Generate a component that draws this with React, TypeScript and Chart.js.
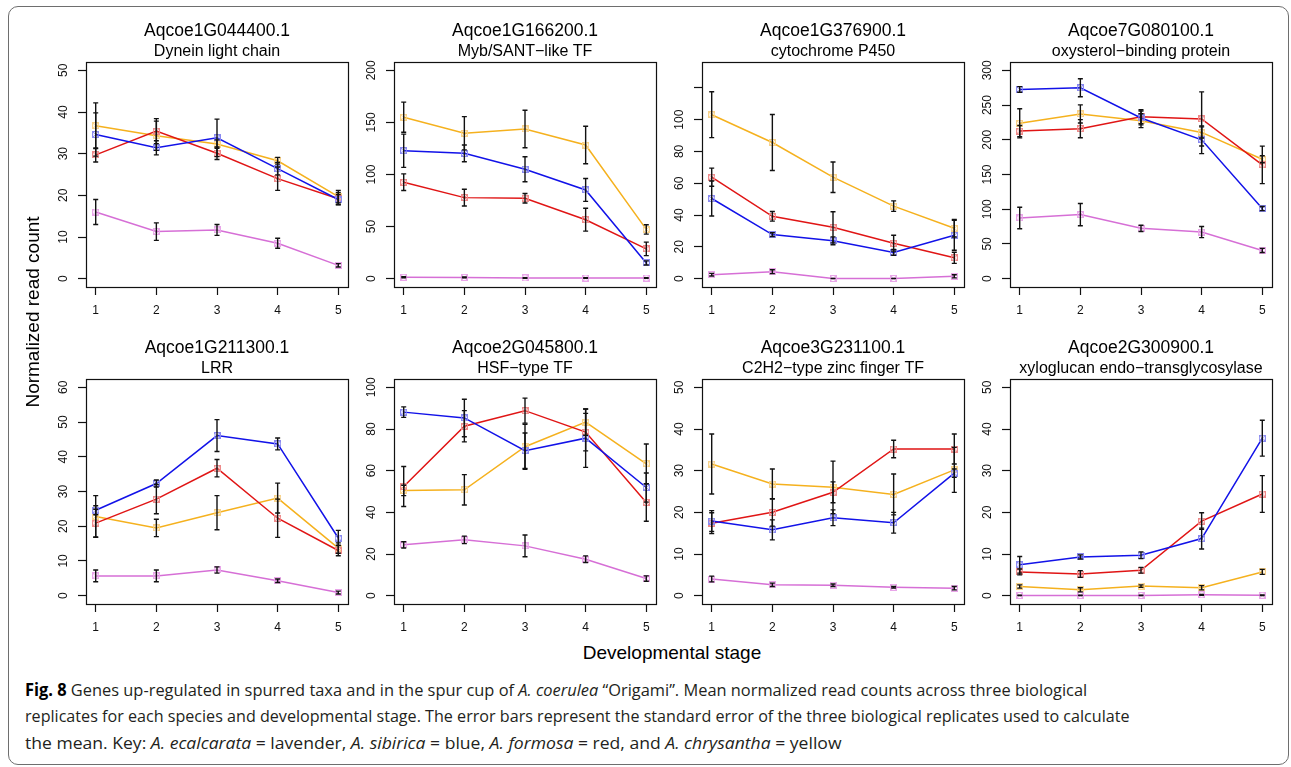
import React, { useEffect, useLayoutEffect, useRef } from "react";
import { Chart, registerables } from "chart.js";

Chart.register(...registerables);

// ---------------- data ----------------
const stages = [1, 2, 3, 4, 5];

const geneIds = [
  "Aqcoe1G044400.1",
  "Aqcoe1G166200.1",
  "Aqcoe1G376900.1",
  "Aqcoe7G080100.1",
  "Aqcoe1G211300.1",
  "Aqcoe2G045800.1",
  "Aqcoe3G231100.1",
  "Aqcoe2G300900.1",
];

const geneNames = [
  "Dynein light chain",
  "Myb/SANT\u2212like TF",
  "cytochrome P450",
  "oxysterol\u2212binding protein",
  "LRR",
  "HSF\u2212type TF",
  "C2H2\u2212type zinc finger TF",
  "xyloglucan endo\u2212transglycosylase",
];

const yLimits = [50, 200, 131, 300, 60, 100, 50, 50];

const yTickValues = [
  [0, 10, 20, 30, 40, 50],
  [0, 50, 100, 150, 200],
  [0, 20, 40, 60, 80, 100, 120],
  [0, 50, 100, 150, 200, 250, 300],
  [0, 10, 20, 30, 40, 50, 60],
  [0, 20, 40, 60, 80, 100],
  [0, 10, 20, 30, 40, 50],
  [0, 10, 20, 30, 40, 50],
];

const yTickLabels = [
  ["0", "10", "20", "30", "40", "50"],
  ["0", "50", "100", "150", "200"],
  ["0", "20", "40", "60", "80", "100", ""],
  ["0", "50", "100", "150", "200", "250", "300"],
  ["0", "10", "20", "30", "40", "50", "60"],
  ["0", "20", "40", "60", "80", "100"],
  ["0", "10", "20", "30", "40", "50"],
  ["0", "10", "20", "30", "40", "50"],
];

// A. ecalcarata (lavender)
const ecalcarataMean = [
  [16.0, 11.3, 11.7, 8.5, 3.2],
  [1.3, 1.2, 0.7, 0.6, 0.6],
  [2.5, 4.4, 0.1, 0.1, 1.5],
  [87.4, 92.3, 72.5, 67.1, 40.6],
  [5.7, 5.7, 7.4, 4.3, 0.9],
  [24.4, 26.8, 23.9, 17.5, 8.2],
  [4.0, 2.6, 2.5, 2.0, 1.8],
  [0.05, 0.05, 0.05, 0.2, 0.1],
];
const ecalcarataSE = [
  [3.0, 2.1, 1.3, 1.2, 0.4],
  [0.5, 0.4, 0.3, 0.3, 0.3],
  [0.8, 1.2, 0.1, 0.1, 1.0],
  [15.5, 16.0, 4.5, 8.0, 3.0],
  [1.7, 1.7, 0.9, 0.5, 0.4],
  [1.5, 1.8, 5.2, 1.6, 1.3],
  [0.7, 0.4, 0.3, 0.2, 0.4],
  [0.05, 0.05, 0.05, 0.1, 0.05],
];

// A. sibirica (blue)
const sibiricaMean = [
  [34.6, 31.4, 33.8, 26.4, 19.0],
  [122.8, 120.3, 105.1, 85.2, 15.1],
  [50.4, 27.7, 23.8, 16.5, 27.3],
  [272.5, 274.9, 231.4, 200.0, 101.0],
  [24.6, 32.3, 46.1, 43.7, 16.6],
  [88.1, 85.3, 69.6, 75.6, 51.9],
  [17.9, 15.8, 18.7, 17.5, 29.4],
  [7.4, 9.3, 9.7, 13.7, 37.8],
];
const sibiricaSE = [
  [5.2, 1.7, 4.5, 1.5, 1.2],
  [16.0, 8.0, 12.0, 11.0, 2.0],
  [11.0, 1.2, 2.5, 1.8, 9.4],
  [4.0, 13.0, 10.0, 20.0, 3.0],
  [1.3, 1.0, 4.6, 1.7, 2.2],
  [2.5, 9.0, 8.5, 14.0, 7.0],
  [2.5, 2.4, 1.9, 2.5, 1.0],
  [2.0, 0.5, 0.8, 2.5, 4.3],
];

// A. formosa (red)
const formosaMean = [
  [29.7, 35.4, 30.1, 24.0, 19.2],
  [92.6, 77.8, 77.2, 56.6, 28.6],
  [63.8, 39.2, 32.3, 22.3, 13.1],
  [212.6, 216.0, 233.3, 230.0, 163.8],
  [20.9, 27.8, 36.7, 22.3, 13.0],
  [52.4, 81.3, 88.8, 78.5, 44.7],
  [17.4, 20.0, 24.8, 35.2, 35.2],
  [5.7, 5.2, 6.1, 17.9, 24.4],
];
const formosaSE = [
  [1.7, 3.0, 1.5, 2.8, 1.5],
  [8.0, 8.0, 4.5, 11.0, 6.5],
  [5.7, 3.0, 9.8, 5.0, 3.5],
  [8.0, 13.0, 10.0, 39.0, 27.0],
  [4.0, 4.2, 2.5, 5.5, 1.5],
  [9.6, 7.5, 6.0, 9.0, 9.0],
  [2.5, 3.3, 2.5, 2.1, 3.6],
  [0.7, 0.8, 0.7, 2.0, 4.4],
];

// A. chrysantha (yellow)
const chrysanthaMean = [
  [36.7, 34.3, 32.3, 28.3, 19.7],
  [155.0, 139.6, 143.7, 128.3, 47.3],
  [103.1, 85.6, 63.8, 45.6, 31.7],
  [223.7, 237.2, 227.5, 210.6, 172.0],
  [22.8, 19.5, 23.9, 28.1, 13.7],
  [50.5, 50.8, 71.5, 83.3, 63.3],
  [31.6, 26.8, 26.0, 24.3, 30.2],
  [2.2, 1.4, 2.3, 1.9, 5.7],
];
const chrysanthaSE = [
  [5.5, 3.5, 1.0, 0.8, 1.5],
  [14.5, 16.0, 18.0, 18.0, 4.5],
  [14.4, 17.6, 9.6, 3.3, 5.5],
  [21.0, 13.0, 10.0, 8.0, 5.0],
  [6.0, 2.5, 4.9, 4.3, 1.5],
  [2.5, 7.3, 10.8, 6.3, 9.5],
  [7.2, 3.6, 6.3, 4.9, 5.4],
  [0.4, 0.5, 0.3, 0.5, 0.6],
];

const speciesNames = ["A. ecalcarata", "A. sibirica", "A. formosa", "A. chrysantha"];
const speciesMeans = [ecalcarataMean, sibiricaMean, formosaMean, chrysanthaMean];
const speciesSEs = [ecalcarataSE, sibiricaSE, formosaSE, chrysanthaSE];
const speciesColors = ["#d66fd6", "#1212e8", "#e01515", "#f5b11e"];
const markerColors = ["#e9a6e9", "#8a8af0", "#ee8a8a", "#f8d28a"];

// ---------------- layout ----------------
const FONT = "'Liberation Sans', Arial, Helvetica, sans-serif";
const TICK_SIZE = 12;
const PLOT_W = 262;
const PLOT_H = 225;
const AXIS_W = 60;
const AXIS_H = 35;
const TOP_PAD = 21;
const TITLE_SIZE = 17.5;
const SUB_SIZE = 16;
const RIGHT_PAD = 8;
const colLeft = [86, 394, 702, 1010];
const rowTop = [0, 317];
const CANVAS_W = AXIS_W + PLOT_W + RIGHT_PAD;
const CANVAS_H = TOP_PAD + TITLE_SIZE * 1.2 + SUB_SIZE * 1.2 + 0.8 + PLOT_H + AXIS_H;

function makeMarker(color: string): HTMLCanvasElement {
  const c = document.createElement("canvas");
  c.width = 7;
  c.height = 7;
  const ctx = c.getContext("2d")!;
  ctx.strokeStyle = color;
  ctx.lineWidth = 1;
  ctx.strokeRect(0.5, 0.5, 6, 6);
  ctx.beginPath();
  ctx.moveTo(0.5, 0.5);
  ctx.lineTo(6.5, 6.5);
  ctx.moveTo(6.5, 0.5);
  ctx.lineTo(0.5, 6.5);
  ctx.stroke();
  return c;
}

const framePlugin = {
  id: "rFrame",
  afterDraw(chart: any) {
    const { ctx, chartArea } = chart;
    ctx.save();
    ctx.strokeStyle = "#111";
    ctx.lineWidth = 1.2;
    ctx.strokeRect(
      Math.round(chartArea.left) + 0.5,
      Math.round(chartArea.top) + 0.5,
      Math.round(chartArea.right - chartArea.left),
      Math.round(chartArea.bottom - chartArea.top)
    );
    ctx.restore();
  },
};

const errorBarPlugin = {
  id: "rErrorBars",
  afterDatasetsDraw(chart: any) {
    const { ctx } = chart;
    const yScale = chart.scales.y;
    ctx.save();
    ctx.strokeStyle = "#111";
    ctx.lineWidth = 1.4;
    chart.data.datasets.forEach((ds: any, di: number) => {
      const meta = chart.getDatasetMeta(di);
      meta.data.forEach((pt: any, i: number) => {
        const v = ds.data[i].y;
        const se = ds.se[i];
        const x = pt.x;
        const yT = yScale.getPixelForValue(v + se);
        const yB = yScale.getPixelForValue(v - se);
        ctx.beginPath();
        ctx.moveTo(x, yT);
        ctx.lineTo(x, yB);
        ctx.moveTo(x - 2.5, yT);
        ctx.lineTo(x + 2.5, yT);
        ctx.moveTo(x - 2.5, yB);
        ctx.lineTo(x + 2.5, yB);
        ctx.stroke();
      });
    });
    ctx.restore();
  },
};

const yLabelPlugin = {
  id: "rYLabels",
  afterDraw(chart: any, _args: any, opts: any) {
    const { ctx, chartArea } = chart;
    const yScale = chart.scales.y;
    ctx.save();
    ctx.fillStyle = "#111";
    ctx.font = `${TICK_SIZE}px ${FONT}`;
    ctx.textAlign = "center";
    ctx.textBaseline = "middle";
    const labels: string[] = opts.labels || [];
    yScale.ticks.forEach((t: any, i: number) => {
      const y = yScale.getPixelForValue(t.value);
      ctx.save();
      ctx.translate(chartArea.left - 22.5, y);
      ctx.rotate(-Math.PI / 2);
      ctx.fillText(labels[i] ?? "", 0, 0);
      ctx.restore();
    });
    ctx.restore();
  },
};

function Panel({ index }: { index: number }) {
  const ref = useRef<HTMLCanvasElement | null>(null);
  useEffect(() => {
    if (!ref.current) return;
    const p = index;
    const ymax = yLimits[p];
    const chart = new Chart(ref.current, {
      type: "line",
      data: {
        datasets: speciesNames.map((name, s) => ({
          label: name,
          data: stages.map((x, i) => ({ x, y: speciesMeans[s][p][i] })),
          se: speciesSEs[s][p],
          borderColor: speciesColors[s],
          backgroundColor: speciesColors[s],
          borderWidth: 1.5,
          pointStyle: makeMarker(markerColors[s]),
          pointRadius: 3,
          tension: 0,
          fill: false,
        })) as any,
      },
      options: {
        animation: false,
        responsive: false,
        events: [],
        layout: { padding: { top: TOP_PAD, left: 0, right: RIGHT_PAD, bottom: 0 } },
        plugins: {
          legend: { display: false },
          tooltip: { enabled: false },
          title: {
            display: true,
            text: geneIds[p],
            fullSize: false,
            color: "#000",
            font: { family: FONT, size: TITLE_SIZE, weight: "normal", lineHeight: 1.2 },
            padding: 0,
          },
          subtitle: {
            display: true,
            text: geneNames[p],
            fullSize: false,
            color: "#000",
            font: { family: FONT, size: SUB_SIZE, weight: "normal", lineHeight: 1.2 },
            padding: { top: 0, bottom: 0.8 },
          },
          rYLabels: { labels: yTickLabels[p] },
        } as any,
        scales: {
          x: {
            type: "linear",
            min: 0.84,
            max: 5.16,
            afterBuildTicks: (scale: any) => {
              scale.ticks = stages.map((v) => ({ value: v }));
            },
            afterFit: (scale: any) => {
              scale.height = AXIS_H;
            },
            grid: {
              display: true,
              drawOnChartArea: false,
              drawTicks: true,
              tickLength: 8,
              tickColor: "#111",
              tickWidth: 1.2,
              color: "#111",
            },
            border: { display: false },
            ticks: {
              color: "#111",
              font: { family: FONT, size: TICK_SIZE },
              padding: 8.5,
              maxRotation: 0,
              autoSkip: false,
              callback: (v: any) => String(v),
            },
          },
          y: {
            type: "linear",
            min: -0.04 * ymax,
            max: 1.04 * ymax,
            afterBuildTicks: (scale: any) => {
              scale.ticks = yTickValues[p].map((v) => ({ value: v }));
            },
            afterFit: (scale: any) => {
              scale.width = AXIS_W;
            },
            grid: {
              display: true,
              drawOnChartArea: false,
              drawTicks: true,
              tickLength: 8,
              tickColor: "#111",
              tickWidth: 1.2,
              color: "#111",
            },
            border: { display: false },
            ticks: { display: false },
          },
        },
      } as any,
      plugins: [framePlugin, errorBarPlugin, yLabelPlugin],
    });
    return () => chart.destroy();
  }, [index]);

  const left = colLeft[index % 4] - AXIS_W;
  const top = rowTop[Math.floor(index / 4)];
  return (
    <canvas
      ref={ref}
      width={CANVAS_W}
      height={Math.round(CANVAS_H)}
      style={{
        position: "absolute",
        left,
        top,
        width: CANVAS_W,
        height: Math.round(CANVAS_H),
      }}
    />
  );
}

// ---------------- caption ----------------
const captionWidths = [1062, 1105, 817];
const CAPTION_FONT = "'Open Sans', 'Noto Sans', sans-serif";

function Caption() {
  const refs = useRef<(HTMLSpanElement | null)[]>([]);
  useLayoutEffect(() => {
    const fit = () => {
      refs.current.forEach((el, i) => {
        if (!el) return;
        el.style.transform = "none";
        const w = el.offsetWidth;
        if (w > 0) el.style.transform = `scaleX(${captionWidths[i] / w})`;
      });
    };
    fit();
    const fonts: any = (document as any).fonts;
    if (fonts && fonts.ready) fonts.ready.then(fit);
  }, []);

  const lineStyle: React.CSSProperties = {
    display: "inline-block",
    whiteSpace: "nowrap",
    transformOrigin: "left center",
  };
  const lines = [
    <>
      <b style={{ color: "#000" }}>Fig. 8</b> Genes up-regulated in spurred taxa and in the spur cup of{" "}
      <i>A. coerulea</i> “Origami”. Mean normalized read counts across three biological
    </>,
    <>
      replicates for each species and developmental stage. The error bars represent the standard error of the
      three biological replicates used to calculate
    </>,
    <>
      the mean. Key: <i>A. ecalcarata</i> = lavender, <i>A. sibirica</i> = blue, <i>A. formosa</i> = red, and{" "}
      <i>A. chrysantha</i> = yellow
    </>,
  ];
  return (
    <div
      style={{
        position: "absolute",
        left: 25,
        top: 676.5,
        fontFamily: CAPTION_FONT,
        fontSize: 17,
        lineHeight: "26.5px",
        color: "#231f20",
      }}
    >
      {lines.map((l, i) => (
        <div key={i} style={{ height: 26.5 }}>
          <span ref={(el) => { refs.current[i] = el; }} style={lineStyle}>
            {l}
          </span>
        </div>
      ))}
    </div>
  );
}

export default function App() {
  return (
    <div
      style={{
        position: "absolute",
        left: 0,
        top: 0,
        width: 1291,
        height: 767,
        background: "#fff",
        overflow: "hidden",
      }}
    >
      <div
        style={{
          position: "absolute",
          left: 8,
          top: 6,
          width: 1281,
          height: 759,
          border: "1.5px solid #6e6e6e",
          borderRadius: 10,
          boxSizing: "border-box",
        }}
      />
      {geneIds.map((_, p) => (
        <Panel key={p} index={p} />
      ))}
      <div
        style={{
          position: "absolute",
          left: 33 - 150,
          top: 312 - 11,
          width: 300,
          height: 22,
          lineHeight: "22px",
          textAlign: "center",
          fontFamily: FONT,
          fontSize: 19,
          color: "#000",
          transform: "rotate(-90deg)",
          transformOrigin: "center center",
          whiteSpace: "nowrap",
        }}
      >
        Normalized read count
      </div>
      <div
        style={{
          position: "absolute",
          left: 672 - 150,
          top: 653 - 11,
          width: 300,
          height: 22,
          lineHeight: "22px",
          textAlign: "center",
          fontFamily: FONT,
          fontSize: 19,
          color: "#000",
          whiteSpace: "nowrap",
        }}
      >
        Developmental stage
      </div>
      <Caption />
    </div>
  );
}
